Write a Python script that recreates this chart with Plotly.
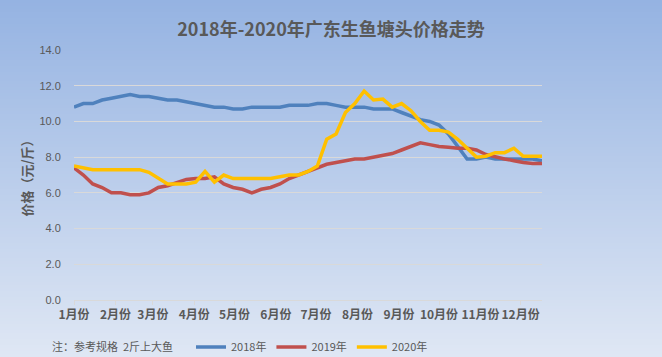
import plotly.graph_objects as go
import datetime as dt

# ---- data (weekly readings, price in 元/斤) ----
week_index = list(range(51))
start_date = dt.date(2019, 1, 1)
dates = [start_date + dt.timedelta(days=7 * k) for k in week_index]

price_2018 = [10.8, 11.0, 11.0, 11.2, 11.3, 11.4, 11.5, 11.4, 11.4, 11.3, 11.2, 11.2, 11.1, 11.0,
              10.9, 10.8, 10.8, 10.7, 10.7, 10.8, 10.8, 10.8, 10.8, 10.9, 10.9, 10.9, 11.0,
              11.0, 10.9, 10.8, 10.8, 10.8, 10.7, 10.7, 10.7, 10.5, 10.3, 10.1, 10.0, 9.8,
              9.3, 8.6, 7.9, 7.9, 8.0, 7.9, 7.9, 7.9, 7.9, 7.9, 7.8]
price_2019 = [7.4, 7.0, 6.5, 6.3, 6.0, 6.0, 5.9, 5.9, 6.0, 6.3, 6.4, 6.6, 6.75, 6.8,
              6.8, 6.9, 6.5, 6.3, 6.2, 6.0, 6.2, 6.3, 6.5, 6.8, 7.0, 7.2, 7.4,
              7.6, 7.7, 7.8, 7.9, 7.9, 8.0, 8.1, 8.2, 8.4, 8.6, 8.8, 8.7, 8.6,
              8.55, 8.5, 8.5, 8.4, 8.15, 8.0, 7.9, 7.8, 7.7, 7.65, 7.65]
price_2020 = [7.5, 7.4, 7.3, 7.3, 7.3, 7.3, 7.3, 7.3, 7.15, 6.8, 6.5, 6.5, 6.5, 6.6,
              7.2, 6.6, 7.0, 6.8, 6.8, 6.8, 6.8, 6.8, 6.9, 7.0, 7.0, 7.2, 7.5,
              9.0, 9.3, 10.5, 11.0, 11.7, 11.2, 11.25, 10.8, 11.0, 10.6, 10.0, 9.5, 9.5,
              9.4, 9.0, 8.5, 8.0, 8.05, 8.25, 8.25, 8.5, 8.05, 8.05, 8.05]

series_names = ["2018年", "2019年", "2020年"]
series_colors = ["#4F81BD", "#C0504D", "#FFC000"]

month_ticks = [dt.date(2019, m, 1) for m in range(1, 13)]
month_labels = [f"{m}月份" for m in range(1, 13)]
x_end = dt.date(2019, 12, 17)

title_text = "2018年-2020年广东生鱼塘头价格走势"
y_title = "价格（元/斤）"
note_text = "注：参考规格  2斤上大鱼"

W, H = 662, 357
ML, MR, MT, MB = 74, 120, 50, 57
PW, PH = W - ML - MR, H - MT - MB

fig = go.Figure()
for name, vals, col in zip(series_names, [price_2018, price_2019, price_2020], series_colors):
    fig.add_trace(go.Scatter(x=dates, y=vals, mode="lines", name=name,
                             line=dict(color=col, width=3.5)))

# vertical gradient background
top = (149, 179, 226)
bot = (223, 231, 244)
nb = 119
shapes = []
y_top = 1 + MT / PH
y_bot = -MB / PH
x_l = -ML / PW
x_r = 1 + MR / PW
for i in range(nb):
    t = i / (nb - 1)
    c = tuple(round(top[j] + (bot[j] - top[j]) * t) for j in range(3))
    y0 = y_top - (y_top - y_bot) * i / nb
    y1 = y_top - (y_top - y_bot) * (i + 1) / nb
    shapes.append(dict(type="rect", xref="paper", yref="paper", x0=x_l, x1=x_r,
                       y0=y1 - 0.002, y1=y0, line=dict(width=0),
                       fillcolor=f"rgb{c}", layer="below"))

font_cjk = "Noto Sans CJK SC, Noto Sans, sans-serif"
gray = "#595959"

fig.update_layout(
    width=W, height=H,
    margin=dict(l=ML, r=MR, t=MT, b=MB, autoexpand=False),
    paper_bgcolor="white", plot_bgcolor="rgba(0,0,0,0)",
    shapes=shapes,
    font=dict(family=font_cjk, color=gray),
    title=dict(text=f"<b>{title_text}</b>", x=0.5, xref="container", xanchor="center",
               yref="container", y=1 - 30 / H, yanchor="middle",
               font=dict(size=18, color=gray, family=font_cjk)),
    xaxis=dict(type="date", range=[dates[0], x_end], tickvals=month_ticks,
               ticktext=[f"<b>{t}</b>" for t in month_labels], tickangle=0,
               tickfont=dict(size=12, color=gray), showgrid=False, automargin=False,
               showline=True, linecolor="#d9d9d9", linewidth=1,
               ticks="outside", ticklen=4, tickcolor="#d9d9d9", zeroline=False),
    yaxis=dict(range=[0, 14], dtick=2, tickformat=".1f", showgrid=True, automargin=False,
               gridcolor="#d9d9d9", gridwidth=1, zeroline=False, showline=False,
               ticks="outside", ticklen=10, tickcolor="rgba(0,0,0,0)",
               tickfont=dict(size=11, color=gray, family="Liberation Sans, Arial"),
               title=dict(text=f"<b>{y_title}</b>", font=dict(size=13, color=gray),
                          standoff=3)),
    legend=dict(orientation="h", xref="container", yref="container",
                x=191 / W, xanchor="left",
                y=(H - 347) / H, yanchor="middle",
                bgcolor="rgba(0,0,0,0)", font=dict(size=11, color=gray),
                itemwidth=30),
    annotations=[dict(text=note_text, xref="paper", yref="paper",
                      x=(50 - ML) / PW, y=(PH - (346 - MT)) / PH,
                      xanchor="left", yanchor="middle", showarrow=False,
                      font=dict(size=11, color=gray))],
)

fig.write_html("out.html", config={"displayModeBar": False},
               post_script="document.body.style.margin='0';document.body.style.padding='0';")
